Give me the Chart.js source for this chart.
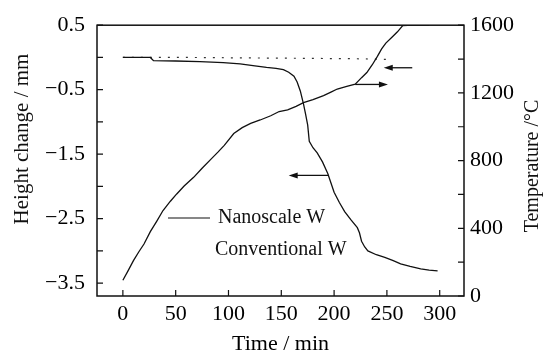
<!DOCTYPE html>
<html>
<head>
<meta charset="utf-8">
<script src="https://cdn.jsdelivr.net/npm/chart.js@4.4.1/dist/chart.umd.min.js"></script>
<style>
    body { margin: 0; background: #fff; }
    canvas { display: block; }
</style>
</head>
<body>
<canvas id="dilatometry-chart" width="543" height="355"></canvas>
<script>
// temperature program (right axis)
const tempTime = [0, 5, 10, 15, 20, 26, 32, 38, 45, 51, 58, 67, 75, 83, 90, 96, 105, 113, 121, 130, 140, 148, 156, 164, 171, 180, 190, 197, 203, 212, 220, 226, 231, 236, 241, 245, 249, 255, 260, 265, 275, 290]
const tempValues = [93, 150, 209, 260, 307, 380, 441, 505, 560, 603, 650, 701, 755, 806, 850, 890, 960, 995, 1020, 1040, 1065, 1090, 1100, 1120, 1142, 1160, 1184, 1205, 1223, 1238, 1252, 1290, 1320, 1365, 1416, 1460, 1494, 1530, 1561, 1598, 1600, 1600]

// height change, nanoscale W (left axis)
const nanoTime = [0, 26, 29, 50, 73, 95, 111, 125, 136, 145, 152, 157, 162, 165, 168, 171, 173, 175, 176.5, 180, 184, 189, 194, 200, 205, 210, 216, 222, 224, 226, 229, 232, 240, 248, 256, 263, 272, 282, 290, 298]
const nanoHeight = [0.0, 0.0, -0.05, -0.055, -0.065, -0.08, -0.10, -0.13, -0.155, -0.17, -0.19, -0.23, -0.29, -0.38, -0.52, -0.72, -0.88, -1.05, -1.30, -1.40, -1.48, -1.62, -1.80, -2.09, -2.25, -2.39, -2.52, -2.64, -2.72, -2.85, -2.94, -3.00, -3.06, -3.10, -3.15, -3.20, -3.24, -3.28, -3.30, -3.31]

// height change, conventional W (left axis)
const convTime = [0, 30, 60, 100, 140, 180, 220, 250]
const convHeight = [0.0, 0.0, 0.0, -0.005, -0.01, -0.015, -0.02, -0.03]

const timeTicks = [0, 50, 100, 150, 200, 250, 300]
const heightTicks = [0.5, 0, -0.5, -1, -1.5, -2, -2.5, -3, -3.5]
const heightLabels = ['0.5', '−0.5', '−1.5', '−2.5', '−3.5']
const tempTicks = [0, 200, 400, 600, 800, 1000, 1200, 1400, 1600]
const tempLabels = ['0', '400', '800', '1200', '1600']

const arrows = [
    { axis: 'yH', from: [274, -0.16], to: [247, -0.16] },
    { axis: 'yT', from: [220, 1250], to: [251, 1250] },
    { axis: 'yH', from: [195, -1.83], to: [157, -1.83] }
]

const serif = 'Liberation Serif'
const ink = '#111'

function toPoints(xs, ys) {
    return xs.map((x, i) => ({ x: x, y: ys[i] }))
}

function fmtLabel(value, labels) {
    const s = String(value).replace('-', '−')
    return labels.includes(s) ? s : ''
}

const decorPlugin = {
    id: 'decor',
    afterDraw(chart) {
        const ctx = chart.ctx
        const area = chart.chartArea
        const xs = chart.scales.x
        const yH = chart.scales.yH
        const yT = chart.scales.yT
        ctx.save()
        ctx.strokeStyle = ink
        ctx.fillStyle = ink

        // frame
        ctx.lineWidth = 1.5
        ctx.strokeRect(area.left, area.top, area.right - area.left, area.bottom - area.top)

        // inward tick marks
        ctx.lineWidth = 1.2
        ctx.beginPath()
        xs.ticks.forEach(t => {
            const px = xs.getPixelForValue(t.value)
            ctx.moveTo(px, area.bottom)
            ctx.lineTo(px, area.bottom - 6)
        })
        yH.ticks.forEach(t => {
            const py = yH.getPixelForValue(t.value)
            ctx.moveTo(area.left, py)
            ctx.lineTo(area.left + 6, py)
        })
        yT.ticks.forEach(t => {
            const py = yT.getPixelForValue(t.value)
            ctx.moveTo(area.right, py)
            ctx.lineTo(area.right - 6, py)
        })
        ctx.stroke()

        // arrows pointing to the axis each curve belongs to
        arrows.forEach(a => {
            const ys = chart.scales[a.axis]
            const x1 = xs.getPixelForValue(a.from[0])
            const y1 = ys.getPixelForValue(a.from[1])
            const x2 = xs.getPixelForValue(a.to[0])
            const y2 = ys.getPixelForValue(a.to[1])
            const dir = Math.sign(x2 - x1)
            ctx.lineWidth = 1.3
            ctx.beginPath()
            ctx.moveTo(x1, y1)
            ctx.lineTo(x2 - dir * 6, y2)
            ctx.stroke()
            ctx.beginPath()
            ctx.moveTo(x2, y2)
            ctx.lineTo(x2 - dir * 9, y2 - 3)
            ctx.lineTo(x2 - dir * 9, y2 + 3)
            ctx.closePath()
            ctx.fill()
        })

        // legend
        ctx.lineWidth = 1.2
        ctx.beginPath()
        ctx.moveTo(168, 218)
        ctx.lineTo(210, 218)
        ctx.stroke()
        ctx.font = `20px "${serif}"`
        ctx.textBaseline = 'middle'
        ctx.textAlign = 'left'
        ctx.fillText('Nanoscale W', 218, 218)
        ctx.fillText('Conventional W', 215, 250)

        // vertical axis titles, both reading bottom to top
        ctx.textAlign = 'center'
        ctx.font = `21px "${serif}"`
        ctx.translate(22, 139)
        ctx.rotate(-Math.PI / 2)
        ctx.fillText('Height change / mm', 0, 0)
        ctx.setTransform(1, 0, 0, 1, 0, 0)
        ctx.font = `20px "${serif}"`
        ctx.translate(533, 166)
        ctx.rotate(-Math.PI / 2)
        ctx.fillText('Temperature /°C', 0, 0)
        ctx.restore()
    }
}

document.addEventListener("DOMContentLoaded", () => {
    const canvas = document.getElementById('dilatometry-chart')
    new Chart(canvas.getContext('2d'), {
        type: 'line',
        data: {
            datasets: [
                {
                    label: 'Temperature',
                    data: toPoints(tempTime, tempValues),
                    yAxisID: 'yT',
                    borderColor: ink,
                    borderWidth: 1.3,
                    pointRadius: 0,
                    tension: 0
                },
                {
                    label: 'Nanoscale W',
                    data: toPoints(nanoTime, nanoHeight),
                    yAxisID: 'yH',
                    borderColor: ink,
                    borderWidth: 1.3,
                    pointRadius: 0,
                    tension: 0
                },
                {
                    label: 'Conventional W',
                    data: toPoints(convTime, convHeight),
                    yAxisID: 'yH',
                    borderColor: '#333',
                    borderWidth: 1.2,
                    borderDash: [2, 7],
                    pointRadius: 0,
                    tension: 0
                }
            ]
        },
        options: {
            responsive: false,
            animation: false,
            devicePixelRatio: 1,
            layout: { padding: { top: 20, left: 0, right: 0, bottom: 0 } },
            plugins: {
                legend: { display: false },
                tooltip: { enabled: false }
            },
            scales: {
                x: {
                    type: 'linear',
                    min: -24.5,
                    max: 323,
                    afterBuildTicks: s => { s.ticks = timeTicks.map(v => ({ value: v })) },
                    afterFit: s => { s.height = 59 },
                    grid: { display: false, drawTicks: false },
                    border: { display: false },
                    ticks: { color: '#000', padding: 5, font: { family: serif, size: 22 } },
                    title: {
                        display: true,
                        text: 'Time / min',
                        color: '#000',
                        padding: { top: 0, bottom: 0 },
                        font: { family: serif, size: 22, lineHeight: 1 }
                    }
                },
                yH: {
                    type: 'linear',
                    position: 'left',
                    min: -3.7,
                    max: 0.5,
                    afterBuildTicks: s => { s.ticks = heightTicks.map(v => ({ value: v })) },
                    afterFit: s => { s.width = 97 },
                    grid: { display: false, drawTicks: false },
                    border: { display: false },
                    ticks: {
                        color: '#000',
                        padding: 12,
                        font: { family: serif, size: 22 },
                        callback: v => fmtLabel(v, heightLabels)
                    }
                },
                yT: {
                    type: 'linear',
                    position: 'right',
                    min: 0,
                    max: 1600,
                    afterBuildTicks: s => { s.ticks = tempTicks.map(v => ({ value: v })) },
                    afterFit: s => { s.width = 79 },
                    grid: { display: false, drawTicks: false },
                    border: { display: false },
                    ticks: {
                        color: '#000',
                        padding: 6,
                        font: { family: serif, size: 22 },
                        callback: v => fmtLabel(v, tempLabels)
                    }
                }
            }
        },
        plugins: [decorPlugin]
    })
})
</script>
</body>
</html>
